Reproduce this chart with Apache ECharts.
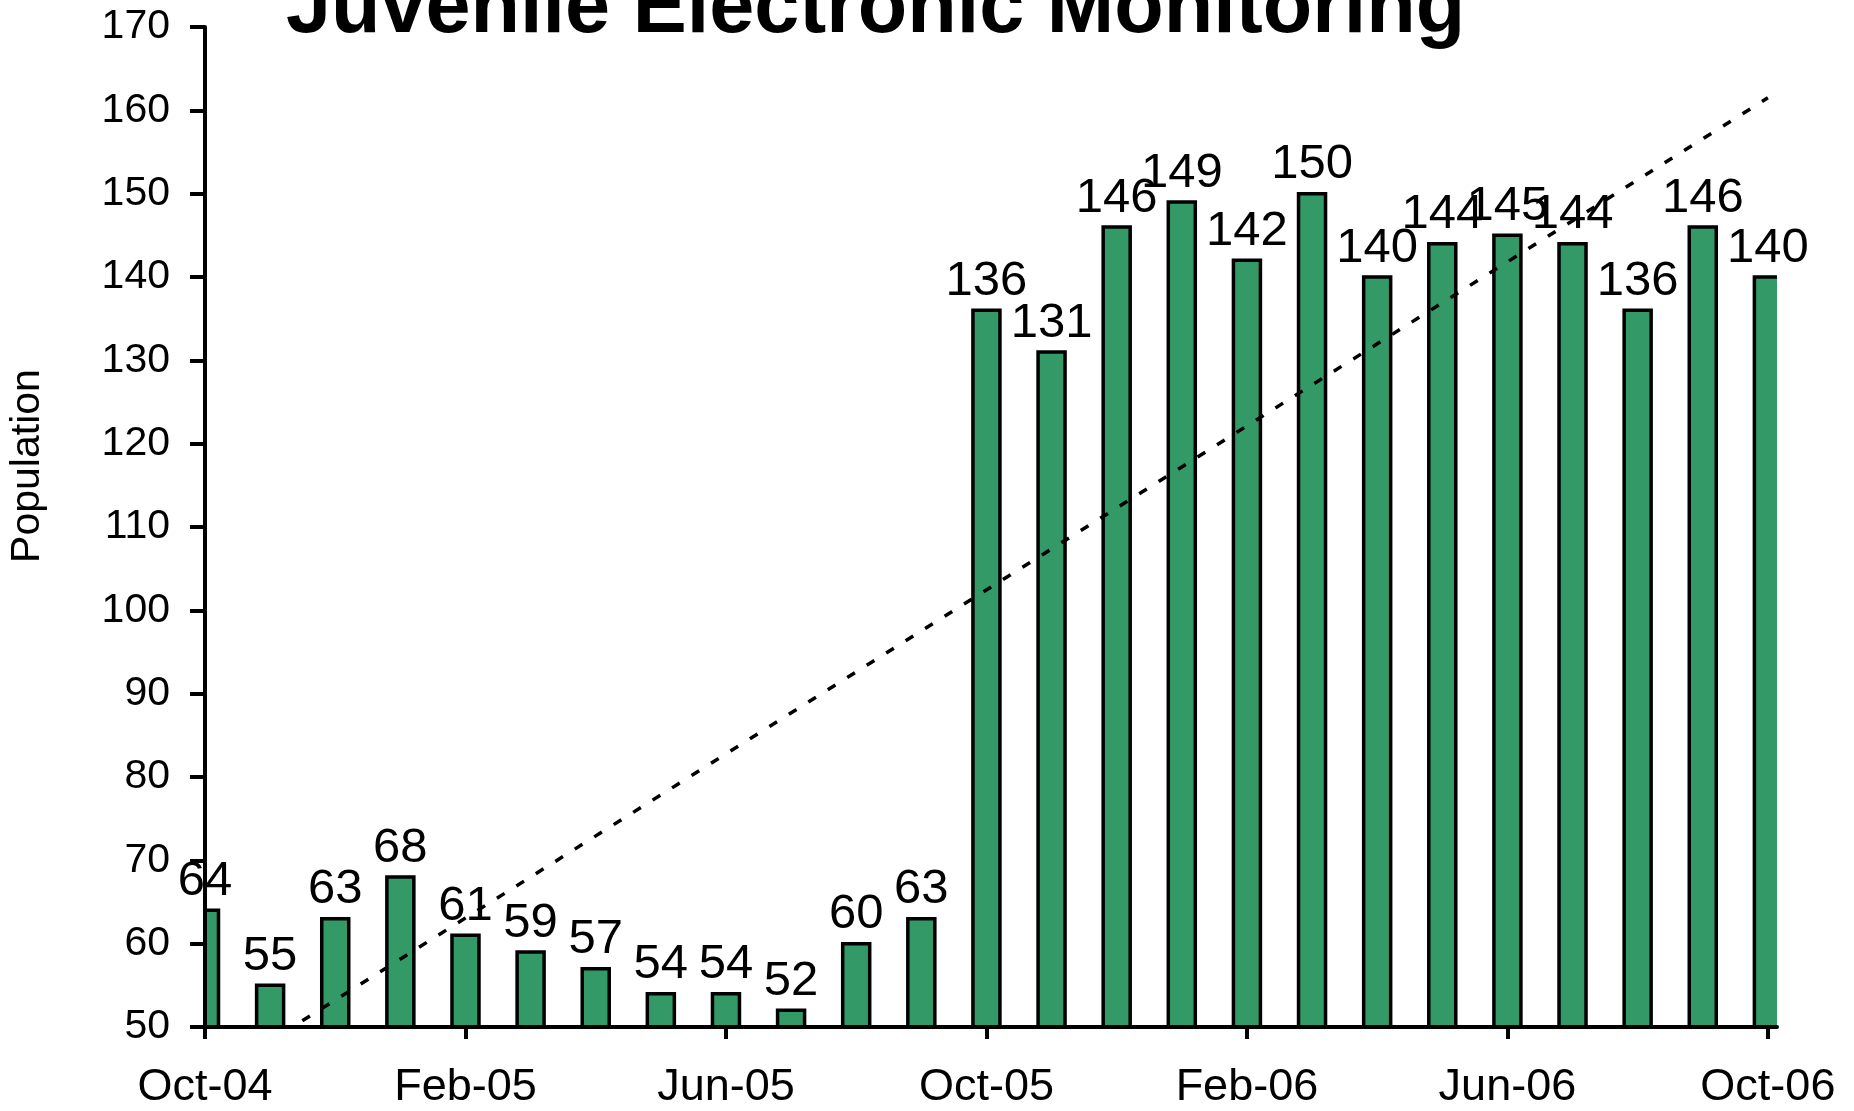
<!DOCTYPE html>
<html>
<head>
<meta charset="utf-8">
<script src="https://cdn.jsdelivr.net/npm/echarts@6/dist/echarts.min.js"></script>
<style>
html,body{margin:0;padding:0;background:#fff;}
#chart{width:1854px;height:1111px;}
</style>
</head>
<body>
<div id="chart"></div>
<script>
// Months (one bar per month), Oct-04 .. Oct-06
const months = ['Oct-04','Nov-04','Dec-04','Jan-05','Feb-05','Mar-05','Apr-05','May-05','Jun-05','Jul-05','Aug-05','Sep-05',
                'Oct-05','Nov-05','Dec-05','Jan-06','Feb-06','Mar-06','Apr-06','May-06','Jun-06','Jul-06','Aug-06','Sep-06','Oct-06'];
// Juvenile electronic monitoring population
const population = [64,55,63,68,61,59,57,54,54,52,60,63,
                    136,131,146,149,142,150,140,144,145,144,136,146,140];
// Month indexes that carry an x tick label
const tickMonths = [0,4,8,12,16,20,24];
// Linear trendline at its two ends (month index, value)
const trendMonths = [0, 24];
const trendValues = [43.4, 161.5];
// Y axis ticks
const yTicks = {min: 50, max: 170, step: 10};

const FONT = '"Liberation Sans", Arial, sans-serif';
const BAR_W = 27;

const barData = population.map((v, i) => [i, v]);

const chart = echarts.init(document.getElementById('chart'), null, {renderer: 'canvas'});
chart.setOption({
  backgroundColor: '#ffffff',
  animation: false,
  title: {
    text: 'Juvenile Electronic Monitoring',
    left: 281,
    top: -36,
    textStyle: {fontFamily: FONT, fontWeight: 'bold', fontSize: 81, lineHeight: 82, color: '#000'}
  },
  graphic: [{
    type: 'text',
    x: 28, y: 466,
    rotation: Math.PI / 2,
    style: {text: 'Population', font: '41px ' + FONT, fill: '#000', align: 'center', verticalAlign: 'middle'}
  }],
  grid: {left: 205, right: 77, top: 27, bottom: 81, containLabel: false},
  xAxis: {
    type: 'value',
    min: 0,
    max: 24.14,
    splitLine: {show: false},
    axisLine: {show: true, onZero: false, lineStyle: {color: '#000', width: 4}},
    axisTick: {show: true, length: 12, customValues: tickMonths, lineStyle: {color: '#000', width: 4}},
    axisLabel: {
      customValues: tickMonths,
      formatter: v => months[Math.round(v)],
      fontFamily: FONT, fontSize: 45, lineHeight: 46, color: '#000', margin: 38
    },
    z: 5
  },
  yAxis: {
    type: 'value',
    min: yTicks.min, max: yTicks.max, interval: yTicks.step,
    splitLine: {show: false},
    axisLine: {show: true, lineStyle: {color: '#000', width: 4}},
    axisTick: {show: true, length: 15, lineStyle: {color: '#000', width: 4}},
    axisLabel: {fontFamily: FONT, fontSize: 41, color: '#000', margin: 35},
    z: 5
  },
  series: [{
    // visible bars, clipped to the plot area
    type: 'custom',
    data: barData,
    encode: {x: 0, y: 1},
    clip: true,
    renderItem: (params, api) => {
      const top = api.coord([api.value(0), api.value(1)]);
      const base = api.coord([api.value(0), yTicks.min]);
      return {
        type: 'rect',
        shape: {x: top[0] - BAR_W / 2, y: top[1], width: BAR_W, height: base[1] - top[1]},
        style: {fill: '#339966', stroke: '#000', lineWidth: 3.5}
      };
    },
    z: 2
  }, {
    // value labels (not clipped)
    type: 'bar',
    data: barData,
    barWidth: BAR_W,
    silent: true,
    itemStyle: {color: 'rgba(0,0,0,0)', borderWidth: 0},
    label: {
      show: true, position: 'top', distance: 4,
      formatter: p => p.value[1],
      fontFamily: FONT, fontSize: 49, lineHeight: 50, color: '#000'
    },
    z: 4
  }, {
    type: 'line',
    data: trendMonths.map((m, i) => [m, trendValues[i]]),
    symbol: 'none',
    clip: true,
    lineStyle: {color: '#000', width: 3.5, type: [9, 14]},
    z: 3
  }]
});
</script>
</body>
</html>
